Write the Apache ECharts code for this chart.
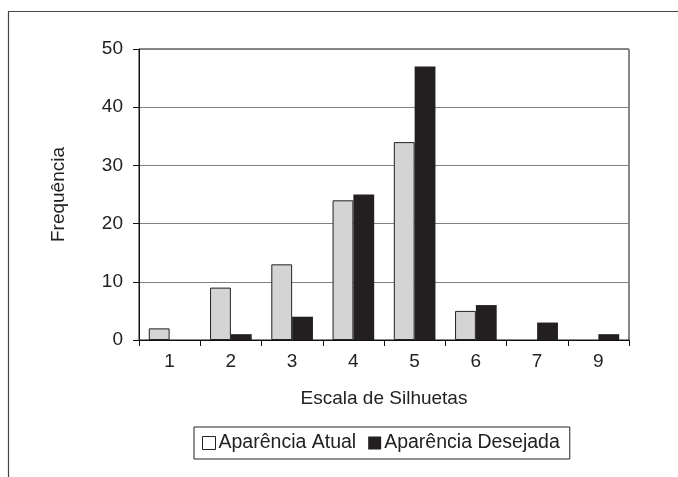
<!DOCTYPE html>
<html>
<head>
<meta charset="utf-8">
<script src="https://cdn.jsdelivr.net/npm/echarts@6/dist/echarts.min.js"></script>
<style>
  html, body { margin: 0; padding: 0; background: #fff; }
  #chart { width: 678px; height: 477px; }
</style>
</head>
<body>
<div id="chart"></div>
<script>
// escala de silhuetas (categorias) e frequências
const categorias = ['1', '2', '3', '4', '5', '6', '7', '9']
const atual = [2, 9, 13, 24, 34, 5, 0, 0]
const desejada = [0, 1, 4, 25, 47, 6, 3, 1]
const yTicks = { min: 0, max: 50, interval: 10 }

const fonte = '"Liberation Sans", Arial, sans-serif'
const chart = echarts.init(document.getElementById('chart'))

// zero não desenha barra (no original não aparece nada)
const semZero = arr => arr.map(v => (v === 0 ? '-' : v))

const option = {
  animation: false,
  textStyle: { fontFamily: fonte, color: '#222' },
  graphic: [{
    // moldura externa (só topo e esquerda aparecem)
    type: 'rect',
    shape: { x: 8.5, y: 11.5, width: 800, height: 600 },
    style: { fill: 'none', stroke: '#444', lineWidth: 1.2 },
    silent: true
  }],
  grid: {
    left: 139,
    right: 49,
    top: 49,
    bottom: 137,
    show: true,
    borderColor: '#111',
    borderWidth: 1
  },
  legend: {
    left: 194,
    top: 427,
    padding: [6, 10, 6, 8],
    borderColor: '#222',
    borderWidth: 1,
    icon: 'rect',
    itemWidth: 13,
    itemHeight: 13,
    itemGap: 12,
    textStyle: { fontSize: 19.5, fontFamily: fonte, color: '#222', padding: [0, 0, 0, -2] },
    data: [
      { name: 'Aparência Atual', itemStyle: { color: '#fff', borderColor: '#222', borderWidth: 1 } },
      { name: 'Aparência Desejada', itemStyle: { color: '#231f20', borderWidth: 0 } }
    ]
  },
  xAxis: {
    type: 'category',
    data: categorias,
    name: 'Escala de Silhuetas',
    nameLocation: 'middle',
    nameGap: 49,
    nameTextStyle: { fontSize: 19, color: '#222' },
    axisLine: { lineStyle: { color: '#111', width: 1 } },
    axisTick: { show: true, length: 6, alignWithLabel: false, lineStyle: { color: '#111' } },
    axisLabel: { fontSize: 19, color: '#222', margin: 12 },
    splitLine: { show: false }
  },
  yAxis: {
    type: 'value',
    min: yTicks.min,
    max: yTicks.max,
    interval: yTicks.interval,
    name: 'Frequência',
    nameLocation: 'middle',
    nameGap: 71,
    nameRotate: 90,
    nameTextStyle: { fontSize: 19, color: '#222' },
    axisLine: { show: true, lineStyle: { color: '#111', width: 1 } },
    axisTick: { show: true, length: 6, lineStyle: { color: '#111' } },
    axisLabel: { fontSize: 19, color: '#222', margin: 16 },
    splitLine: { show: true, lineStyle: { color: '#808080', width: 1.2 } }
  },
  series: [
    {
      name: 'Aparência Atual',
      type: 'bar',
      data: semZero(atual),
      barGap: '0%',
      barCategoryGap: '32%',
      itemStyle: { color: '#d4d4d4', borderColor: '#222', borderWidth: 1 }
    },
    {
      name: 'Aparência Desejada',
      type: 'bar',
      data: semZero(desejada),
      barGap: '0%',
      barCategoryGap: '32%',
      itemStyle: { color: '#231f20', borderColor: '#231f20', borderWidth: 0 }
    }
  ]
}

chart.setOption(option)
</script>
</body>
</html>
